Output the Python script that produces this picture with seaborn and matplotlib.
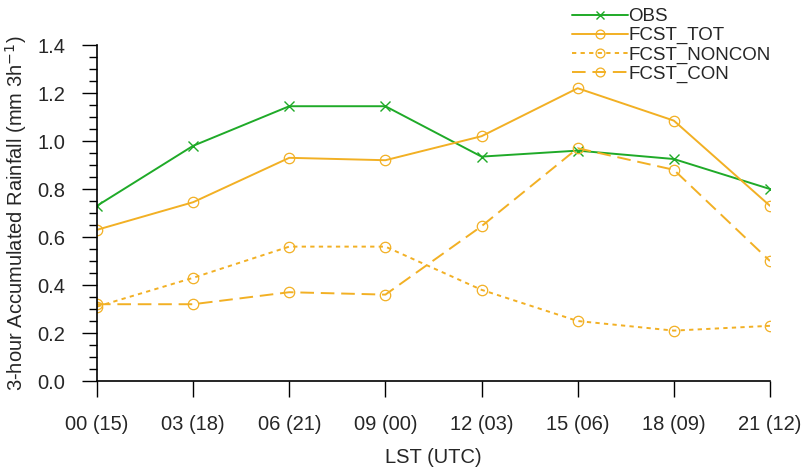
import matplotlib
matplotlib.use("Agg")
import matplotlib.pyplot as plt
import seaborn as sns
import pandas as pd
from matplotlib.ticker import MultipleLocator

hours = ["00 (15)", "03 (18)", "06 (21)", "09 (00)", "12 (03)", "15 (06)", "18 (09)", "21 (12)"]
obs = [0.73, 0.98, 1.145, 1.145, 0.935, 0.96, 0.925, 0.80]
fcst_tot = [0.63, 0.745, 0.93, 0.92, 1.02, 1.22, 1.085, 0.73]
fcst_noncon = [0.31, 0.43, 0.56, 0.56, 0.38, 0.25, 0.21, 0.23]
fcst_con = [0.32, 0.32, 0.37, 0.36, 0.645, 0.97, 0.88, 0.50]

sns.set_theme(style="white")
plt.rcParams['font.family'] = ['Liberation Sans', 'DejaVu Sans']

green = "#1faa28"
orange = "#f2b024"

fig = plt.figure(figsize=(8.06, 4.69), dpi=100)
ax = fig.add_axes([0.1203, 0.1876, 0.835, 0.7164])

x = list(range(len(hours)))
df = pd.DataFrame({"x": x, "OBS": obs, "FCST_TOT": fcst_tot,
                   "FCST_NONCON": fcst_noncon, "FCST_CON": fcst_con})

ms = 7.5
sns.lineplot(data=df, x="x", y="OBS", ax=ax, color=green, lw=1.4,
             marker="x", markersize=6.5, markeredgewidth=1.0, markeredgecolor=green,
             label="OBS")
sns.lineplot(data=df, x="x", y="FCST_TOT", ax=ax, color=orange, lw=1.4,
             marker="o", markersize=ms, markerfacecolor="none", markeredgewidth=0.9,
             markeredgecolor=orange, label="FCST_TOT")
sns.lineplot(data=df, x="x", y="FCST_NONCON", ax=ax, color=orange, lw=1.4,
             linestyle=(0, (2.2, 2.2)),
             marker="o", markersize=ms, markerfacecolor="none", markeredgewidth=0.9,
             markeredgecolor=orange, label="FCST_NONCON")
sns.lineplot(data=df, x="x", y="FCST_CON", ax=ax, color=orange, lw=1.4,
             linestyle=(0, (7, 3.5)),
             marker="o", markersize=ms, markerfacecolor="none", markeredgewidth=0.9,
             markeredgecolor=orange, label="FCST_CON")

ax.set_xlim(0, 7)
ax.set_ylim(0, 1.4)
ax.set_xticks(x)
ax.set_xticklabels(hours)
ax.yaxis.set_major_locator(MultipleLocator(0.2))
ax.yaxis.set_minor_locator(MultipleLocator(0.05))
ax.set_yticklabels([f"{v:.1f}" for v in ax.get_yticks()])

for s in ["top", "right"]:
    ax.spines[s].set_visible(False)
for s in ["left", "bottom"]:
    ax.spines[s].set_color("black")
    ax.spines[s].set_linewidth(1.2)

ax.tick_params(axis="y", which="major", direction="out", length=11, width=1.0,
               color="black", labelsize=14.5, pad=12, left=True)
ax.tick_params(axis="x", which="major", direction="out", length=11.5, width=1.0,
               color="black", labelsize=14.5, pad=13, bottom=True)
ax.tick_params(axis="y", which="minor", direction="out", length=5.5, width=1.0,
               color="black", left=True)
ax.tick_params(axis="x", which="minor", bottom=False)

ax.set_xlabel("LST (UTC)", fontsize=14.5, labelpad=10)
ax.set_ylabel("3-hour Accumulated Rainfall (mm 3h$^{-1}$)", fontsize=14.5, labelpad=6)

leg = ax.legend(loc="upper left", bbox_to_anchor=(572/806, 1 - 8/469),
                bbox_transform=fig.transFigure, frameon=False, fontsize=13.5,
                handlelength=3.0, handletextpad=0.0, labelspacing=0.1,
                borderpad=0, borderaxespad=0, markerscale=0.85)

fig.savefig("out.png", dpi=100)
